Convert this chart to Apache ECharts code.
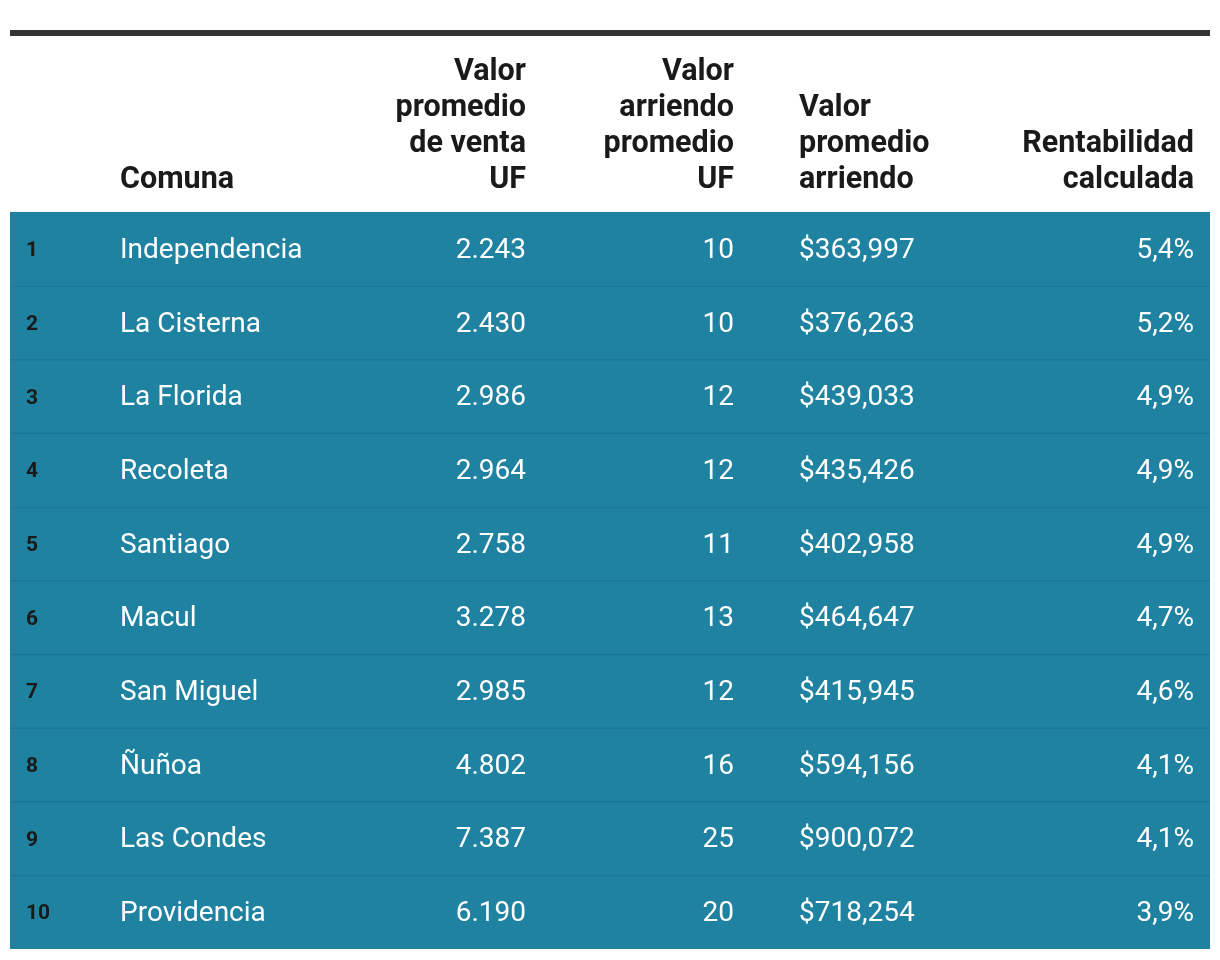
<!DOCTYPE html>
<html><head><meta charset="utf-8">
<script src="https://cdn.jsdelivr.net/npm/echarts@6/dist/echarts.min.js"></script>
<style>html,body{margin:0;padding:0;background:#fff}#c{width:1220px;height:960px}</style>
</head><body><div id="c"></div>
<script>
const ranks = [1,2,3,4,5,6,7,8,9,10];
const comunas = ['Independencia','La Cisterna','La Florida','Recoleta','Santiago','Macul','San Miguel','Ñuñoa','Las Condes','Providencia'];
const ventaUF = [2243,2430,2986,2964,2758,3278,2985,4802,7387,6190];
const arriendoUF = [10,10,12,12,11,13,12,16,25,20];
const arriendoCLP = [363997,376263,439033,435426,402958,464647,415945,594156,900072,718254];
const rentabilidad = [5.4,5.2,4.9,4.9,4.9,4.7,4.6,4.1,4.1,3.9];
const headers = ['', 'Comuna', 'Valor\npromedio\nde venta\nUF', 'Valor\narriendo\npromedio\nUF', 'Valor\npromedio\narriendo', 'Rentabilidad\ncalculada'];

function fmtDot(n){return String(n).replace(/\B(?=(\d{3})+(?!\d))/g,'.');}
function fmtComma(n){return '$'+String(n).replace(/\B(?=(\d{3})+(?!\d))/g,',');}
function fmtPct(n){return n.toFixed(1).replace('.',',')+'%';}

const FONT = 'Roboto, "Noto Sans", sans-serif';
const cols = [
  {x:16, align:'left'},
  {x:110, align:'left'},
  {x:516, align:'right'},
  {x:724, align:'right'},
  {x:789, align:'left'},
  {x:1184, align:'right'}
];
const GL = 10, GT = 212;

const rows = ranks.map((r,i)=>[i]);

const chart = echarts.init(document.getElementById('c'), null, {renderer:'canvas'});

const headerGraphics = headers.map((h,i)=>({
  type:'text',
  x: GL + cols[i].x,
  y: 198,
  style:{
    text:h, fill:'#1a1a1a', font:'bold 30.5px '+FONT,
    align: cols[i].align, verticalAlign:'bottom', lineHeight:36
  }
})).filter(g=>g.style.text);

chart.setOption({
  animation:false,
  grid:{left:GL, right:10, top:GT, bottom:11},
  xAxis:{type:'value', min:0, max:1200, show:false},
  yAxis:{type:'category', data:ranks.map(String), inverse:true, show:false},
  graphic:[
    {type:'rect', shape:{x:10,y:30,width:1200,height:6}, style:{fill:'#333333'}}
  ].concat(headerGraphics),
  series:[{
    type:'custom',
    data:rows,
    encode:{y:0},
    renderItem:function(params, api){
      const i = api.value(0);
      const c0 = api.coord([0, i]);
      const c1 = api.coord([1200, i]);
      const h = api.size([0,1])[1];
      const top = c0[1]-h/2;
      const children = [
        {type:'rect', shape:{x:c0[0], y:top, width:c1[0]-c0[0], height:h}, style:{fill:'#1f82a1'}}
      ];
      if(i>0){
        children.push({type:'rect', shape:{x:c0[0], y:top-0.5, width:c1[0]-c0[0], height:1.5}, style:{fill:'#1b7894'}});
      }
      const vals = [String(ranks[i]), comunas[i], fmtDot(ventaUF[i]), String(arriendoUF[i]), fmtComma(arriendoCLP[i]), fmtPct(rentabilidad[i])];
      vals.forEach((v,k)=>{
        const p = api.coord([cols[k].x, i]);
        children.push({type:'text', x:p[0], y:p[1]+2, style:{
          text:v, align:cols[k].align, verticalAlign:'middle',
          fill: k===0 ? '#1a1a1a' : '#ffffff',
          font: k===0 ? 'bold 21px '+FONT : '28px '+FONT
        }});
      });
      return {type:'group', children:children};
    }
  }]
});
</script></body></html>
